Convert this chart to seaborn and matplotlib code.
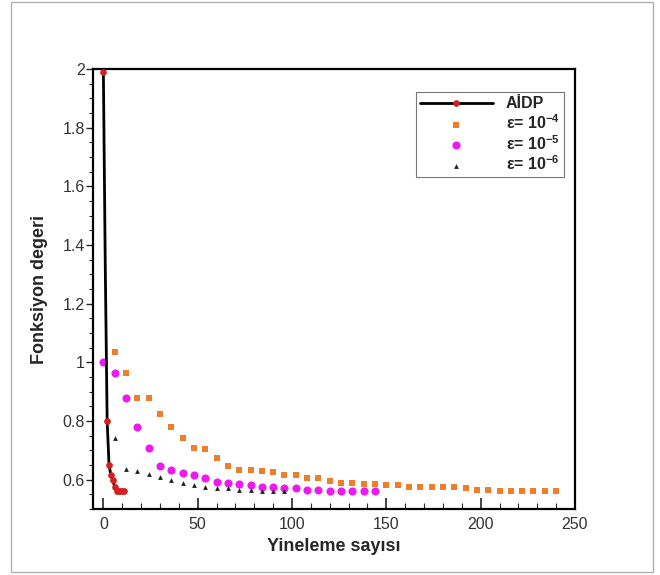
import numpy as np
import pandas as pd
import matplotlib
matplotlib.use("Agg")
import matplotlib.pyplot as plt
import seaborn as sns
from matplotlib.ticker import MultipleLocator, FuncFormatter
from matplotlib.patches import Rectangle

# ---- data ----
aidp_x = [0, 1, 2, 3, 4, 5, 6, 7, 8, 9, 10, 11]
aidp_y = [1.99, 1.33, 0.80, 0.65, 0.615, 0.60, 0.575, 0.56, 0.56, 0.56, 0.56, 0.56]

e4_x = list(range(6, 241, 6))
e4_y = [1.035, 0.964, 0.879, 0.879, 0.823, 0.780, 0.742, 0.709, 0.706, 0.675,
        0.645, 0.634, 0.632, 0.629, 0.626, 0.617, 0.615, 0.604, 0.604, 0.594,
        0.589, 0.587, 0.584, 0.584, 0.581, 0.581, 0.575, 0.575, 0.575, 0.575,
        0.575, 0.573, 0.566, 0.565, 0.562, 0.561, 0.561, 0.561, 0.561, 0.561]

e5_x = list(range(0, 145, 6))
e5_y = [1.0, 0.964, 0.879, 0.780, 0.709, 0.645, 0.632, 0.624, 0.615, 0.604,
        0.592, 0.589, 0.584, 0.581, 0.575, 0.575, 0.573, 0.573, 0.566, 0.565,
        0.562, 0.561, 0.561, 0.561, 0.561]

e6_x = list(range(6, 97, 6))
e6_y = [0.742, 0.638, 0.629, 0.618, 0.608, 0.598, 0.588, 0.581, 0.575, 0.571,
        0.570, 0.566, 0.565, 0.562, 0.561, 0.561]

labels = ["AİDP", r"ε= $\mathbf{10^{-4}}$", r"ε= $\mathbf{10^{-5}}$", r"ε= $\mathbf{10^{-6}}$"]

# ---- style ----
sns.set_theme(style="white")
plt.rcParams["font.family"] = ["Liberation Sans", "DejaVu Sans"]
plt.rcParams["mathtext.fontset"] = "custom"
plt.rcParams["mathtext.rm"] = "Liberation Sans"
plt.rcParams["mathtext.bf"] = "Liberation Sans:bold"

fig = plt.figure(figsize=(6.6, 5.75), dpi=100)
ax = fig.add_axes([93/660, 1 - 509/575, (575-93)/660, (509-69)/575])

# outer figure frame
fig.patches.append(Rectangle((11/660, 1 - 572/575), (653-11)/660, (572-2)/575,
                             transform=fig.transFigure, fill=False,
                             edgecolor="#b0b0b0", linewidth=1.0))

df_a = pd.DataFrame({"x": aidp_x, "y": aidp_y})
df4 = pd.DataFrame({"x": e4_x, "y": e4_y})
df5 = pd.DataFrame({"x": e5_x, "y": e5_y})
df6 = pd.DataFrame({"x": e6_x, "y": e6_y})

sns.lineplot(data=df_a, x="x", y="y", ax=ax, color="black", linewidth=2.0,
             marker="o", markersize=4, markerfacecolor="#d42020",
             markeredgecolor="#d42020", label=labels[0], sort=False, zorder=3,
             markevery=[0] + list(range(2, len(aidp_x))))
sns.scatterplot(data=df4, x="x", y="y", ax=ax, color="#ef7d2a", marker="s",
                s=20, linewidth=0, label=labels[1], zorder=2)
sns.scatterplot(data=df5, x="x", y="y", ax=ax, color="#f018f0", marker="o",
                s=34, linewidth=0, label=labels[2], zorder=2)
sns.scatterplot(data=df6, x="x", y="y", ax=ax, color="#222222", marker="^",
                s=12, linewidth=0, label=labels[3], zorder=2)

ax.set_xlim(-5.5, 250)
ax.set_ylim(0.5, 2.0)
ax.xaxis.set_major_locator(MultipleLocator(50))
ax.xaxis.set_minor_locator(MultipleLocator(10))
ax.set_yticks([0.6, 0.8, 1.0, 1.2, 1.4, 1.6, 1.8, 2.0])
ax.yaxis.set_minor_locator(MultipleLocator(0.05))
ax.yaxis.set_major_formatter(FuncFormatter(lambda v, p: f"{v:g}"))

ax.tick_params(axis="x", which="major", direction="in", length=8, width=1.2,
               labelsize=11.5, pad=6, bottom=True)
ax.tick_params(axis="x", which="minor", direction="in", length=4, width=0.8, bottom=True)
ax.tick_params(axis="y", which="major", direction="out", length=5, width=1.0,
               labelsize=11.5, pad=1, left=True)
ax.tick_params(axis="y", which="minor", direction="out", length=3, width=0.8, left=True)
for lab in ax.get_xticklabels() + ax.get_yticklabels():
    lab.set_color("#333333")

for sp in ax.spines.values():
    sp.set_visible(True)
    sp.set_color("black")
    sp.set_linewidth(1.6)

ax.set_xlabel("Yineleme sayısı", fontsize=13, fontweight="bold", labelpad=4)
ax.set_ylabel("Fonksiyon degeri", fontsize=13, fontweight="bold", labelpad=10)

leg = ax.legend(loc="upper right", bbox_to_anchor=(0.977, 0.947), frameon=True,
                fancybox=False, edgecolor="#777777", framealpha=1,
                prop={"weight": "bold", "size": 11.5}, handlelength=4.6,
                borderpad=0.25, labelspacing=0.12, handletextpad=0.8,
                borderaxespad=0.0)
leg.get_frame().set_linewidth(0.8)

fig.savefig("out.png", dpi=100, facecolor="white")
